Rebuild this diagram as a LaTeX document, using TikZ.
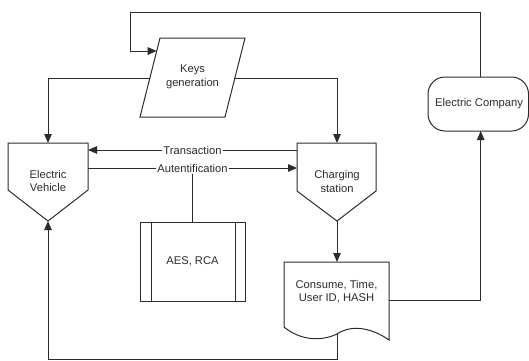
\documentclass[tikz,border=0pt]{standalone}
\usepackage{fontspec}
\setmainfont{Liberation Sans}
\usetikzlibrary{arrows.meta}
\definecolor{ink}{HTML}{2B2B2B}
\tikzset{
  shp/.style={draw=ink, line width=1pt, line join=miter},
  txt/.style={align=center, font=\fontsize{11.2}{13.5}\selectfont, text=ink, inner sep=1pt},
  lbl/.style={txt, fill=white, inner sep=1pt},
  conn/.style={draw=ink, line width=1pt},
  arr/.style={conn, -{Triangle[length=9pt,width=7.5pt]}}
}
\begin{document}
\begin{tikzpicture}[x=1pt,y=-1pt]
\useasboundingbox (0,0) rectangle (529,360);

% Keys generation (parallelogram)
\draw[shp] (160,38) -- (245,38) -- (225,117) -- (140,117) -- cycle;
\node[txt] (keys) at (192.5,77) {Keys\\generation};
\coordinate (keysL) at (150,78);
\coordinate (keysR) at (235,78);
\coordinate (keysIn) at (156.7,51);

% Electric Vehicle
\draw[shp] (8,143) -- (88,143) -- (88,190) -- (48,221) -- (8,190) -- cycle;
\node[txt] (ev) at (48,181) {Electric\\Vehicle};
\coordinate (evT) at (48,143);
\coordinate (evB) at (48,221);
\coordinate (evR1) at (88,150);
\coordinate (evR2) at (88,168);

% Charging station
\draw[shp] (297,143) -- (376,143) -- (376,191) -- (337,221) -- (297,191) -- cycle;
\node[txt] (cs) at (337,181.5) {Charging\\station};
\coordinate (csT) at (337,143);
\coordinate (csB) at (337,221);
\coordinate (csL1) at (297,150);
\coordinate (csL2) at (297,168);

% AES, RCA (predefined process)
\draw[shp] (140,222) rectangle (245,301);
\draw[shp] (151,222) -- (151,301);
\draw[shp] (235,222) -- (235,301);
\node[txt] (aes) at (192.5,261) {AES, RCA};
\coordinate (aesT) at (192.5,222);

% Document
\draw[shp] (284,262) -- (389,262) -- (389,340)
  .. controls (372,328) and (352,324) .. (337,334)
  .. controls (320,342) and (300,340) .. (284,327) -- cycle;
\node[txt] (doc) at (336.5,291.5) {Consume, Time,\\User ID, HASH};
\coordinate (docT) at (337,262);
\coordinate (docR) at (389,300);
\coordinate (docB) at (337,334);

% Electric Company (terminator)
\draw[shp, rounded corners=17pt] (428,77) rectangle (528.5,131);
\node[txt] (ec) at (479,104) {Electric Company};
\coordinate (ecT) at (480.7,77);
\coordinate (ecB) at (480.7,131);

% Connectors
\draw[arr] (keysL) -| (evT);
\draw[arr] (keysR) -| (csT);
\draw[arr] (ecT) |- (130,12) |- (keysIn);
\draw[arr] (csL1) -- node[lbl] (trans) {Transaction} (evR1);
\draw[arr] (evR2) -- node[lbl] (auth) {Autentification} (csL2);
\draw[conn] (auth.south) -- (aesT);
\draw[arr] (csB) -- (docT);
\draw[arr] (docR) -| (ecB);
\draw[arr] (docB) -- (337,359.5) -| (evB);
\end{tikzpicture}
\end{document}
